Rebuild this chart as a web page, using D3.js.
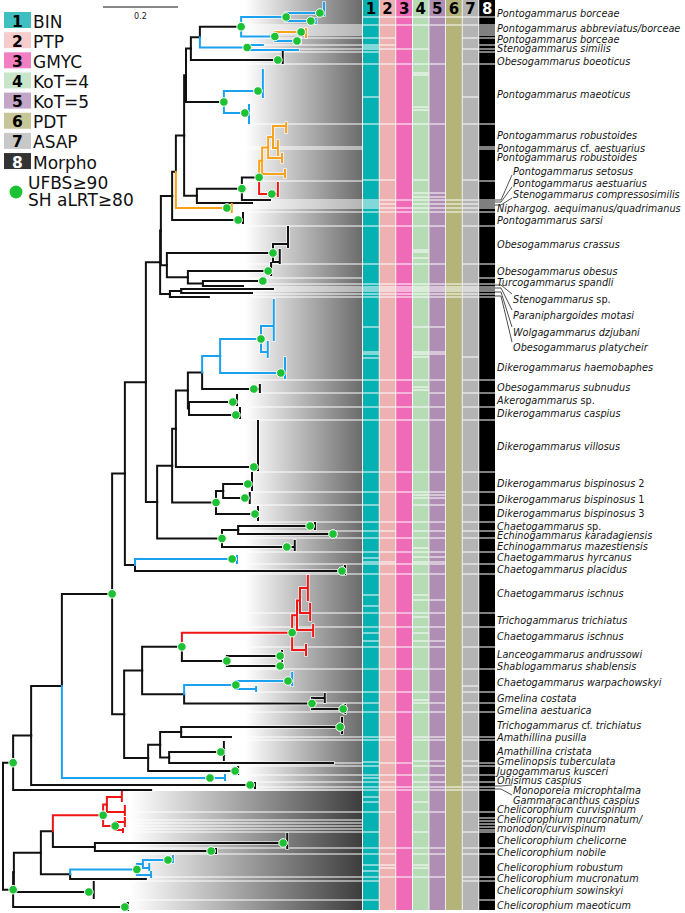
<!DOCTYPE html>
<html><head><meta charset="utf-8">
<script src="https://cdn.jsdelivr.net/npm/d3@7"></script>
<style>body{margin:0;background:#fff}svg{display:block}</style>
</head><body>
<svg id="c" width="685" height="913"></svg>
<script>
// ---------------- DATA ----------------
const methodNames = ["BIN","PTP","GMYC","KoT=4","KoT=5","PDT","ASAP","Morpho"];
const columnColors = ["#06b1b1","#eeb1b1","#ef6bb7","#b5dcb5","#b08db2","#b3b37a","#b4b4b4","#000000"];
const legendColors = ["#3fbfbf","#f6cccc","#f27fc2","#c9e5c9","#c3a6c7","#c7c698","#c8c8c8","#333333"];
const supportLabel = ["UFBS\u226590","SH aLRT\u226580"];
const scaleBarValue = 0.2;

// tree: [id, parent, depth (subst./site), row (tips), colour, supported, tipLength, spreadTop, spreadBottom]
const treeNodes = [
["root",null,0,null,"k",0],
["A","root",0.027,null,"k",1],
["Z","root",0.027,null,"k",1],
["B","A",0.075,null,"k",0],
["gammaracanthus","A",0.395,790,"k",0],
["C","B",0.157,null,"k",0],
["monoporeia","B",0.659,785,"k",1,0.013,783,788],
["G","C",0.291,null,"k",1],
["onisimus","C",0.552,778,"b",1,0.04,775,780],
["F","G",0.325,null,"k",0],
["H","G",0.323,null,"k",0],
["D","F",0.381,null,"k",0],
["X","F",0.352,null,"k",0],
["hyrcanus","X",0.611,559,"b",1,0.013,556,563],
["placidus","X",0.904,571,"k",1,0.008,566,574],
["O1","D",0.419,null,"k",0],
["E","D",0.411,null,"k",0],
["O2","O1",0.421,null,"k",0],
["n170","O1",0.445,null,"k",0],
["Q","O2",0.451,null,"k",0],
["n167","O2",0.437,null,"k",0],
["n176b","Q",0.461,null,"k",0],
["sarsi","Q",0.627,220,"k",1,0.013,213,223],
["n185","n176b",0.483,null,"k",0],
["niphargog","n176b",0.597,208,"o",1,0.013,204,212],
["R","n185",0.488,null,"k",0],
["n197","n185",0.517,null,"k",0],
["n191","R",0.501,null,"k",0],
["maeo","R",0.589,null,"k",1],
["m1","maeo",0.680,91,"b",1,0.013,70,97],
["m2","maeo",0.645,113,"b",1,0.011,105,123],
["n200","n191",0.525,null,"k",0],
["boeoticus","n191",0.733,60,"k",1,0.013,52,63],
["S","n200",0.635,null,"k",1],
["simN","n200",0.651,null,"b",1],
["sim1","simN",0.693,45,"b",0],
["sim2","simN",0.787,50,"b",0],
["T","S",0.755,null,"b",1],
["U","S",0.725,null,"b",1],
["borceae1","T",0.845,13,"b",1,0.011,3,15],
["abbreviatus","T",0.821,21,"b",1,0.013,19,23],
["borceae2","U",0.795,32,"o",1,0.013,29,37],
["similis","U",0.784,41,"b",1,0.008,39,43],
["n242","n197",0.637,null,"k",1],
["t203","n197",0.664,203,"k",0],
["n259","n242",0.683,null,"k",1],
["t200","n242",0.712,200,"k",0],
["oA","n259",0.691,null,"o",0],
["setosus","n259",0.717,194,"r",1,0.016,183,196],
["oB","oA",0.707,null,"o",0],
["oL4","oA",0.747,174,"o",0,0.005,170,177],
["oC","oB",0.720,null,"o",0],
["oL3","oB",0.739,158,"o",0,0.005,154,162],
["oL1","oC",0.747,126,"o",0,0.008,123,132],
["oL2","oC",0.728,148,"o",0,0.005,141,155],
["crassus","n167",0.720,null,"k",1],
["crA","crassus",0.755,244,"k",0,0.005,227,247],
["crB","crassus",0.733,262,"k",0,0.005,250,263],
["n188","n167",0.493,null,"k",0],
["obesus","n188",0.707,271,"k",1,0.008,263,275],
["n203","n188",0.533,null,"k",0],
["spandli","n203",0.693,281,"k",1,0.005,279,282],
["stenosp","n203",0.640,286,"k",0],
["n181b","n170",0.475,null,"k",0],
["motasi","n181b",0.720,289,"k",0],
["dzjubani","n181b",0.664,293,"k",0],
["platycheir","n170",0.549,297,"k",0],
["V","E",0.451,null,"k",0],
["W","E",0.584,null,"k",1],
["n176c","V",0.461,null,"k",0],
["n215","V",0.568,null,"k",1],
["n188c","n176c",0.493,null,"k",0],
["villosus","n176c",0.669,467,"k",1,0.011,421,470],
["n202","n188c",0.531,null,"k",0],
["n189","n188c",0.496,null,"k",0],
["n220","n202",0.579,null,"b",0],
["haemoU","n220",0.688,null,"b",1],
["hU1","haemoU",0.717,326,"b",0,0.005,300,340],
["hU2","haemoU",0.701,352,"b",0,0.005,342,357],
["haemoL","n220",0.741,373,"b",1,0.011,358,378],
["subnudus","n202",0.669,389,"k",1,0.016,385,392],
["akero","n189",0.613,402,"k",1,0.011,395,405],
["caspius","n189",0.621,415,"k",1,0.011,408,418],
["n223","n215",0.587,null,"k",0],
["bisp3","n215",0.672,514,"k",1,0.008,507,520],
["bisp2","n223",0.653,484,"k",1,0.011,473,490],
["bisp1","n223",0.645,498,"k",1,0.013,493,503],
["n238","W",0.627,null,"k",0],
["mazest","W",0.757,547,"k",1,0.021,541,550],
["chaetosp","n238",0.819,526,"k",1,0.013,523,529],
["karad","n238",0.880,534,"k",1,0.005,532,536],
["I","H",0.371,null,"k",0],
["n148","H",0.387,null,"k",0],
["J","I",0.477,null,"k",1],
["L","I",0.483,null,"k",0],
["rI","J",0.771,null,"r",1],
["rI1","rI",0.784,null,"r",0],
["rIL","rI",0.800,650,"r",0,0.008,645,655],
["rI2","rI1",0.792,null,"r",0],
["rIL2","rI1",0.819,630,"r",0,0.008,625,636],
["rIL3","rI2",0.808,588,"r",0,0.005,576,600],
["rIL4","rI2",0.811,613,"r",0,0.008,604,620],
["K","J",0.597,null,"k",1],
["lanceo","K",0.739,656,"k",1,0.005,651,660],
["shablo","K",0.739,666,"k",1,0.005,662,668],
["M","L",0.621,null,"b",1],
["warp1","M",0.760,681,"b",1,0.011,673,685],
["warp2","M",0.667,689,"b",0,0.008,687,691],
["N","L",0.824,null,"k",1],
["costata","N",0.853,698,"k",0,0.005,694,702],
["aestuarica","N",0.907,709,"k",1,0.005,705,713],
["n160","n148",0.419,null,"k",0],
["jugo","n148",0.619,771,"k",1,0.008,767,774],
["n181","n160",0.475,null,"k",0],
["n169","n160",0.443,null,"k",0],
["trichocf","n181",0.899,727,"k",1,0.005,718,733],
["pusilla","n181",0.608,737,"k",0],
["cristata","n169",0.581,752,"k",1,0.008,742,760],
["gmelinopsis","n169",0.880,763,"k",0],
["Zp","Z",0.029,null,"k",0],
["maeoticum","Z",0.325,907,"k",1,0.008,903,910],
["n41","Zp",0.101,null,"k",0],
["sowinskyi","Zp",0.229,892,"k",1,0.013,882,898],
["n53","n41",0.133,null,"k",0],
["n70","n41",0.179,null,"k",0],
["redC","n53",0.267,null,"r",1],
["rc1","redC",0.277,null,"r",0],
["rcL1","rc1",0.309,797,"r",0,0.008,792,801],
["rcL2","rc1",0.315,812,"r",0,0.01,806,815],
["rc2","redC",0.299,null,"r",1],
["rcL3","rc2",0.317,822,"r",0,0.008,818,826],
["rcL4","rc2",0.315,830,"r",0,0.005,829,832],
["n95","n53",0.245,null,"k",0],
["chelicorne","n95",0.747,843,"k",1,0.011,834,848],
["nobile","n95",0.555,851,"k",1,0.013,849,853],
["robN","n70",0.357,null,"b",1],
["robA","robN",0.373,null,"b",0],
["robA1","robA",0.440,860,"b",1,0.013,856,862],
["robA2","robA",0.387,868,"b",0,0.003,864,870],
["robB","robN",0.392,875,"b",0,0.003,872,877],
["mucronatum","n70",0.381,879,"k",0]
];

// species labels: [name, row, row pointed to by a leader (if offset)]
const speciesLabels = [
["Pontogammarus borceae",13],["Pontogammarus abbreviatus/borceae",28],["Pontogammarus borceae",39],
["Stenogammarus similis",48],["Obesogammarus boeoticus",61],["Pontogammarus maeoticus",94],
["Pontogammarus robustoides",135],["Pontogammarus cf. aestuarius",148],["Pontogammarus robustoides",157],
["Pontogammarus setosus",171,200],["Pontogammarus aestuarius",183,202],["Stenogammarus compressosimilis",194,205],
["Niphargog. aequimanus/quadrimanus",208],["Pontogammarus sarsi",220],["Obesogammarus crassus",244],
["Obesogammarus obesus",271],["Turcogammarus spandli",282],["Stenogammarus sp.",299,285],
["Paraniphargoides motasi",315,288],["Wolgagammarus dzjubani",332,292],["Obesogammarus platycheir",347,296],
["Dikerogammarus haemobaphes",367],["Obesogammarus subnudus",387],["Akerogammarus sp.",400],
["Dikerogammarus caspius",413],["Dikerogammarus villosus",446],["Dikerogammarus bispinosus 2",483],
["Dikerogammarus bispinosus 1",499],["Dikerogammarus bispinosus 3",513],["Chaetogammarus sp.",526],
["Echinogammarus karadagiensis",535],["Echinogammarus mazestiensis",546],["Chaetogammarus hyrcanus",557],
["Chaetogammarus placidus",569],["Chaetogammarus ischnus",593],["Trichogammarus trichiatus",620],
["Chaetogammarus ischnus",636],["Lanceogammarus andrussowi",654],["Shablogammarus shablensis",666],
["Chaetogammarus warpachowskyi",682],["Gmelina costata",698],["Gmelina aestuarica",710],
["Trichogammarus cf. trichiatus",725],["Amathillina pusilla",737],["Amathillina cristata",751],
["Gmelinopsis tuberculata",761],["Jugogammarus kusceri",771],["Onisimus caspius",780],
["Monoporeia microphtalma",790,786],["Gammaracanthus caspius",800,789],["Chelicorophium curvispinum",809],
["Chelicorophium mucronatum/",819],["monodon/curvispinum",828],["Chelicorophium chelicorne",840],
["Chelicorophium nobile",852],["Chelicorophium robustum",867],["Chelicorophium mucronatum",878],
["Chelicorophium sowinskyi",890],["Chelicorophium maeoticum",905]
];

// white separators in the specimen strip and in each delimitation column (row units)
const stripBreaks = [25,27,29,31,33,35,38,45,49,52,64,124,147,149,181,200,202,204,206,208,212,226,264,278,284,287,289,291,294,297,380,393,407,420,472,492,505,522,531,538,552,564,574,613,627,647,669,692,703,712,737,740,763,766,775,782,787,790,812,820,823,826,829,832,848,854,877,881,900];
const binBreaks = [25,38,45,47,49,52,64,97,124,180,200,202,204,206,208,212,226,264,284,287,289,291,294,297,327,352,354,358,380,393,407,420,472,492,505,522,531,538,552,558,562,564,574,595,606,613,627,633,641,647,669,692,703,712,737,740,762,766,775,778,782,787,790,797,802,812,832,848,854,865,871,877,881,900];
const ptpBreaks = [25,38,45,49,64,124,180,200,204,208,212,226,264,284,287,289,291,294,297,380,393,407,420,472,492,522,531,538,552,562,564,574,613,627,647,669,692,712,737,740,763,775,782,787,790,812,848,854,865,868,877];
const gmycBreaks = [25,49,64,124,200,208,212,226,264,284,287,289,291,294,297,380,393,407,420,472,492,522,538,552,564,574,613,627,647,669,692,712,763,775,787,790,848,877];
const kot4Breaks = [25,49,64,73,75,107,110,124,180,193,197,200,204,208,212,226,250,252,258,264,284,287,289,291,294,297,327,352,354,357,380,387,390,407,420,472,492,495,498,505,522,531,538,548,552,557,562,564,574,595,600,613,617,627,633,641,647,669,692,700,703,712,737,740,761,766,775,782,787,790,802,812,832,848,854,865,868,877];
const kot5Breaks = [25,64,124,193,197,200,204,208,212,226,264,284,287,289,291,294,297,327,352,354,380,393,407,420,472,492,495,498,505,522,531,538,552,557,562,564,574,600,613,627,641,647,669,692,703,712,737,740,761,766,775,782,787,790,812,848,854,877];
const pdtBreaks = [25,200,204,208,212,284,287,289,291,294,297,787,790];
const asapBreaks = [25,38,49,64,97,124,180,200,204,208,212,226,264,284,287,289,291,294,297,357,380,393,407,420,472,492,505,522,531,538,552,564,574,613,627,647,669,686,692,703,712,737,740,761,766,775,782,787,790,812,832,848,854,877,881];
const morphoBreaks = [25,27,29,31,33,35,38,45,49,52,64,124,147,149,181,200,202,204,206,208,212,226,264,278,284,287,289,291,294,297,380,393,407,420,472,492,505,522,531,538,552,564,574,613,627,647,669,692,703,712,737,740,763,766,775,782,787,790,812,818,821,824,827,830,832,848,854,877,881,900];
const columnBreaks = [binBreaks,ptpBreaks,gmycBreaks,kot4Breaks,kot5Breaks,pdtBreaks,asapBreaks,morphoBreaks];

// ---------------- DRAWING ----------------
const svg = d3.select("#c");
const xs = d3.scaleLinear().domain([0,1]).range([3,378]);
const ys = d3.scaleLinear().domain([0,910]).range([0,910]);
const col = d3.scaleBand().domain(d3.range(8)).range([363,495]).paddingInner(0.05);
const branchColor = {k:"#111111", b:"#1ba2ee", o:"#f7a21c", r:"#f01616"};
const labelFont = "'DejaVu Sans Condensed','DejaVu Sans',sans-serif";

const defs = svg.append("defs");
function grad(id, x1, x2, c2){
  const g = defs.append("linearGradient").attr("id",id).attr("gradientUnits","userSpaceOnUse")
    .attr("x1",x1).attr("x2",x2).attr("y1",0).attr("y2",0);
  g.append("stop").attr("offset",0).attr("stop-color","#ffffff");
  g.append("stop").attr("offset",1).attr("stop-color",c2);
}
grad("gUp", 245, 362, "#6b6b6b");
grad("gLow", 130, 362, "#3d3d3d");

const stripSplit = 791;
svg.append("rect").attr("x",120).attr("y",0).attr("width",362-120).attr("height",ys(stripSplit)).attr("fill","url(#gUp)");
svg.append("rect").attr("x",120).attr("y",ys(stripSplit)).attr("width",362-120).attr("height",ys(910)-ys(stripSplit)).attr("fill","url(#gLow)");
svg.append("g").selectAll("line").data(stripBreaks).join("line")
  .attr("x1",120).attr("x2",362).attr("y1",d=>ys(d)).attr("y2",d=>ys(d))
  .attr("stroke","#fff").attr("stroke-width",1);

// columns
const colG = svg.append("g");
columnColors.forEach((c,i)=>{
  const x0 = col(i), w = col.bandwidth();
  colG.append("rect").attr("x",x0).attr("y",0).attr("width",w).attr("height",16.5).attr("fill",i===7?"#000":c);
  colG.append("text").attr("x",x0+w/2).attr("y",14).attr("text-anchor","middle")
    .attr("font-family","'DejaVu Sans',sans-serif").attr("font-weight","bold").attr("font-size",15)
    .attr("fill",i===7?"#fff":"#000").text(i+1);
  colG.append("rect").attr("x",x0).attr("y",17.5).attr("width",w).attr("height",ys(910)-17.5).attr("fill",c);
  colG.selectAll(null).data(columnBreaks[i]).join("line")
    .attr("x1",x0).attr("x2",x0+w).attr("y1",d=>ys(d)).attr("y2",d=>ys(d))
    .attr("stroke","#fff").attr("stroke-width",1);
});

// tree
const root = d3.stratify().id(d=>d[0]).parentId(d=>d[1])(treeNodes);
root.eachAfter(n=>{
  n.xv = n.data[2];
  n.yv = n.children ? d3.mean(n.children, c=>c.yv) : n.data[3];
});
const segs = [];
root.descendants().forEach(n=>{
  if(!n.parent) return;
  const px = xs(n.parent.xv), py = ys(n.parent.yv), x = xs(n.xv), y = ys(n.yv);
  let p = `M${px},${py}V${y}H${x}`;
  const tip = n.data[6];
  if(tip){ const tx = xs(n.xv+tip); p += `H${tx}M${tx},${ys(n.data[7])}V${ys(n.data[8])}`; }
  segs.push({p, c:n.data[4]});
});
segs.sort((a,b)=>(a.c==="k"?0:1)-(b.c==="k"?0:1));
const tg = svg.append("g").attr("fill","none");
tg.selectAll("path.h").data(segs).join("path").attr("class","h").attr("d",d=>d.p)
  .attr("stroke","#fff").attr("stroke-opacity",0.75).attr("stroke-width",3.6).attr("stroke-linecap","square");
tg.selectAll("path.b").data(segs).join("path").attr("class","b").attr("d",d=>d.p)
  .attr("stroke",d=>branchColor[d.c]).attr("stroke-width",2).attr("stroke-linecap","square");
svg.append("g").selectAll("circle").data(root.descendants().filter(n=>n.data[5])).join("circle")
  .attr("cx",n=>xs(n.xv)).attr("cy",n=>ys(n.yv)).attr("r",4.3)
  .attr("fill","#1cc134").attr("stroke","#fff").attr("stroke-width",1);

// labels
const lg = svg.append("g").attr("font-family",labelFont).attr("font-size",10.8).attr("fill","#161616");
speciesLabels.forEach(([name,row,ptr])=>{
  const x = ptr!==undefined ? 513 : 497;
  const t = lg.append("text").attr("x",x).attr("y",ys(row)).attr("dy","0.36em");
  name.split(" ").forEach((w,i)=>{
    t.append("tspan").attr("font-style",(w==="sp."||w==="cf."||/^\d$/.test(w))?"normal":"italic")
      .text((i?" ":"")+w);
  });
  if(ptr!==undefined){
    const down = row>ptr;
    const ey = down ? ys(row)-5 : ys(row)+4;
    lg.append("path").attr("d",`M495,${ys(ptr)}L501,${ys(ptr)}L512,${ey}`)
      .attr("fill","none").attr("stroke","#222").attr("stroke-width",0.8);
  }
});

// scale bar
svg.append("line").attr("x1",xs(0)+100).attr("x2",xs(scaleBarValue)+100).attr("y1",7).attr("y2",7)
  .attr("stroke","#111").attr("stroke-width",1);
svg.append("text").attr("x",(xs(0)+xs(scaleBarValue))/2+100).attr("y",19).attr("text-anchor","middle")
  .attr("font-family",labelFont).attr("font-size",9).attr("fill","#222").text(scaleBarValue);

// legend
const leg = svg.append("g");
methodNames.forEach((m,i)=>{
  const y0 = 12 + i*20.15;
  leg.append("rect").attr("x",4).attr("y",y0).attr("width",27).attr("height",16).attr("fill",legendColors[i]);
  leg.append("text").attr("x",17.5).attr("y",y0+14.5).attr("text-anchor","middle")
    .attr("font-family","'DejaVu Sans',sans-serif").attr("font-weight","bold").attr("font-size",15.5)
    .attr("fill",i===7?"#fff":"#000").text(i+1);
  leg.append("text").attr("x",33).attr("y",y0+15.5)
    .attr("font-family","'DejaVu Sans',sans-serif").attr("font-size",17).attr("fill","#111").text(m);
});
leg.append("circle").attr("cx",16).attr("cy",192).attr("r",6.5).attr("fill","#1cc134");
supportLabel.forEach((s,i)=>leg.append("text").attr("x",28).attr("y",189+i*16.5)
  .attr("font-family","'DejaVu Sans',sans-serif").attr("font-size",17).attr("fill","#111").text(s));
</script>
</body></html>
